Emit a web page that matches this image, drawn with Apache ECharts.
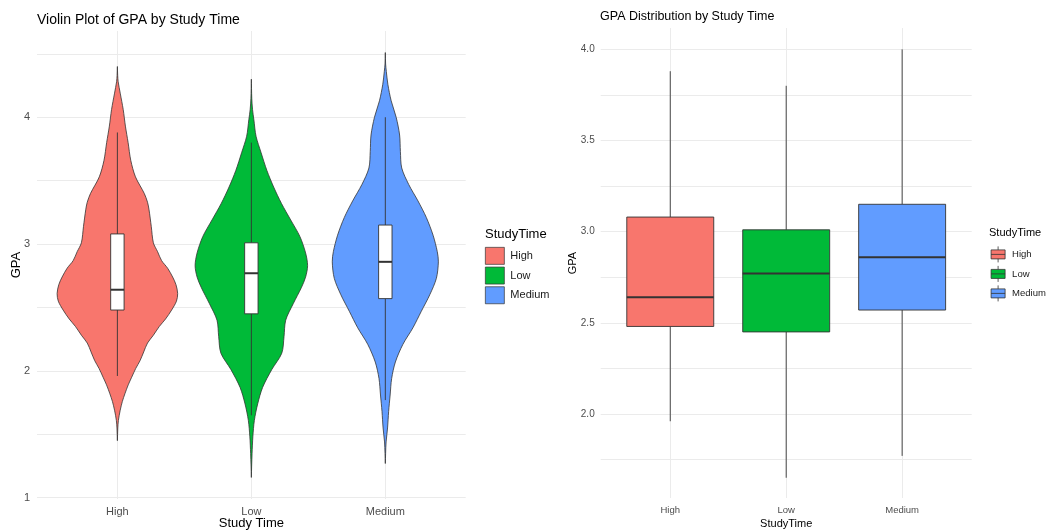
<!DOCTYPE html>
<html>
<head>
<meta charset="utf-8">
<script src="https://cdn.jsdelivr.net/npm/echarts@6/dist/echarts.min.js"></script>
<style>
html,body{margin:0;padding:0;background:#fff;}
#chart{width:1047px;height:531px;}
</style>
</head>
<body>
<div id="chart"></div>
<script>
// ---------- data ----------
const categories = ['High', 'Low', 'Medium'];

// violin outlines: GPA level and relative density (1 = widest violin)
const highViolinGpa = [4.40,4.33,4.28,4.19,4.06,3.93,3.80,3.66,3.53,3.40,3.33,3.27,3.14,3.01,2.94,2.87,2.81,2.74,2.68,2.61,2.55,2.48,2.41,2.35,2.28,2.22,2.15,2.08,2.02,1.95,1.89,1.82,1.76,1.69,1.61,1.55,1.45];
const highViolinDensity = [0,0.005,0.013,0.047,0.097,0.133,0.178,0.222,0.300,0.445,0.500,0.525,0.562,0.597,0.667,0.733,0.833,0.917,0.972,1.000,0.980,0.900,0.800,0.695,0.595,0.500,0.437,0.375,0.305,0.237,0.180,0.125,0.083,0.047,0.017,0.007,0];
const lowViolinGpa = [4.30,4.15,4.06,3.98,3.85,3.72,3.58,3.45,3.32,3.19,3.06,2.93,2.83,2.74,2.66,2.53,2.40,2.27,2.14,2.01,1.87,1.74,1.61,1.48,1.35,1.25,1.16];
const lowViolinDensity = [0,0.007,0.020,0.042,0.078,0.162,0.258,0.370,0.500,0.653,0.805,0.900,0.933,0.900,0.833,0.695,0.570,0.542,0.505,0.338,0.187,0.105,0.050,0.025,0.012,0.005,0];
const mediumViolinGpa = [4.51,4.42,4.36,4.26,4.13,4.00,3.86,3.73,3.60,3.47,3.34,3.21,3.07,2.94,2.86,2.73,2.60,2.47,2.34,2.21,2.07,1.94,1.81,1.68,1.55,1.44,1.35,1.27];
const mediumViolinDensity = [0,0.005,0.017,0.042,0.097,0.180,0.237,0.250,0.272,0.388,0.542,0.680,0.792,0.862,0.880,0.847,0.737,0.597,0.458,0.292,0.167,0.105,0.080,0.055,0.037,0.013,0.005,0];

// box statistics per category (High, Low, Medium)
const boxMin    = [1.96, 1.65, 1.77];
const boxQ1     = [2.48, 2.45, 2.57];
const boxMedian = [2.64, 2.77, 2.86];
const boxQ3     = [3.08, 3.01, 3.15];
const boxMax    = [3.88, 3.80, 4.00];

// tick labels
const violinYTicks = [1, 2, 3, 4];
const boxYTicks = [2.0, 2.5, 3.0, 3.5, 4.0];

// ---------- styles ----------
const groupColors = ['#F8766D', '#00BA38', '#619CFF'];
const FONT = 'Liberation Sans, Arial, Helvetica, sans-serif';
const GRID_COLOR = '#EBEBEB';
const OUTLINE = '#333333';
const VIOLIN_HALF_WIDTH = 0.45;   // half of ggplot violin width 0.9
const INNER_BOX_HALF = 0.05;      // width 0.1
const BOX_HALF = 0.375;           // width 0.75

const violinGpa = [highViolinGpa, lowViolinGpa, mediumViolinGpa];
const violinDensity = [highViolinDensity, lowViolinDensity, mediumViolinDensity];

function violinRender(ci) {
  const gpa = violinGpa[ci], dens = violinDensity[ci];
  return function (params, api) {
    if (params.dataIndex !== 0) return null;
    const right = [], left = [];
    for (let i = 0; i < gpa.length; i++) {
      const hw = dens[i] * VIOLIN_HALF_WIDTH;
      right.push(api.coord([ci + hw, gpa[i]]));
      left.unshift(api.coord([ci - hw, gpa[i]]));
    }
    return {
      type: 'polygon',
      shape: { points: right.concat(left), smooth: 0.3 },
      style: { fill: api.visual('color'), stroke: OUTLINE, lineWidth: 0.8 }
    };
  };
}

function boxRender(halfW, fixedFill) {
  return function (params, api) {
    const c = api.value(0);
    const lo = api.value(1), q1 = api.value(2), md = api.value(3), q3 = api.value(4), hi = api.value(5);
    const tl = api.coord([c - halfW, q3]);
    const br = api.coord([c + halfW, q1]);
    const top = api.coord([c, hi]);
    const bot = api.coord([c, lo]);
    const q3p = api.coord([c, q3]);
    const q1p = api.coord([c, q1]);
    const ml = api.coord([c - halfW, md]);
    const mr = api.coord([c + halfW, md]);
    return {
      type: 'group',
      children: [
        { type: 'line', shape: { x1: top[0], y1: top[1], x2: q3p[0], y2: q3p[1] }, style: { stroke: OUTLINE, lineWidth: 0.9 } },
        { type: 'line', shape: { x1: bot[0], y1: bot[1], x2: q1p[0], y2: q1p[1] }, style: { stroke: OUTLINE, lineWidth: 0.9 } },
        { type: 'rect', shape: { x: tl[0], y: tl[1], width: br[0] - tl[0], height: br[1] - tl[1] },
          style: { fill: fixedFill || api.visual('color'), stroke: OUTLINE, lineWidth: 0.9 } },
        { type: 'line', shape: { x1: ml[0], y1: ml[1], x2: mr[0], y2: mr[1] }, style: { stroke: OUTLINE, lineWidth: 2 } }
      ]
    };
  };
}

function boxRow(i) { return [i, boxMin[i], boxQ1[i], boxMedian[i], boxQ3[i], boxMax[i]]; }

function catLabel(v) {
  return Number.isInteger(v) && v >= 0 && v < categories.length ? categories[v] : '';
}
function inTicks(list, v) { return list.some(t => Math.abs(t - v) < 1e-6); }

const series = [];
categories.forEach((name, i) => {
  series.push({
    type: 'custom', name: name, xAxisIndex: 0, yAxisIndex: 0, z: 2,
    itemStyle: { color: groupColors[i] },
    encode: { x: 0, y: 1 },
    data: violinGpa[i].map(g => [i, g]),
    renderItem: violinRender(i)
  });
});
series.push({
  type: 'custom', name: 'violinBox', xAxisIndex: 0, yAxisIndex: 0, z: 3,
  encode: { x: 0, y: [1, 2, 3, 4, 5] },
  data: categories.map((c, i) => boxRow(i)),
  renderItem: boxRender(INNER_BOX_HALF, '#FFFFFF')
});
categories.forEach((name, i) => {
  series.push({
    type: 'custom', name: name, xAxisIndex: 1, yAxisIndex: 1, z: 2,
    itemStyle: { color: groupColors[i] },
    encode: { x: 0, y: [1, 2, 3, 4, 5] },
    data: [boxRow(i)],
    renderItem: boxRender(BOX_HALF, null)
  });
});

function xAxisDef(gridIndex, name, labelSize, nameSize, nameGap) {
  return {
    type: 'value', gridIndex: gridIndex, min: -0.6, max: 2.6, minInterval: 1, maxInterval: 1,
    axisLine: { show: false }, axisTick: { show: false },
    splitLine: { show: true, showMinLine: false, showMaxLine: false, lineStyle: { color: GRID_COLOR, width: 1 } },
    axisLabel: { formatter: catLabel, fontSize: labelSize, color: '#4D4D4D', margin: 7, fontFamily: FONT },
    name: name, nameLocation: 'middle', nameGap: nameGap, nameMoveOverlap: false,
    nameTextStyle: { fontSize: nameSize, color: '#000', fontFamily: FONT }
  };
}

const option = {
  animation: false,
  backgroundColor: '#FFFFFF',
  textStyle: { fontFamily: FONT },
  title: [
    { text: 'Violin Plot of GPA by Study Time', left: 37, top: 13, padding: 0,
      textStyle: { fontSize: 14, fontWeight: 'normal', color: '#000', fontFamily: FONT } },
    { text: 'GPA Distribution by Study Time', left: 600, top: 10, padding: 0,
      textStyle: { fontSize: 12.5, fontWeight: 'normal', color: '#000', fontFamily: FONT } },
    { text: 'StudyTime', left: 485, top: 228, padding: 0,
      textStyle: { fontSize: 13, fontWeight: 'normal', color: '#000', fontFamily: FONT } },
    { text: 'StudyTime', left: 989, top: 227, padding: 0,
      textStyle: { fontSize: 11, fontWeight: 'normal', color: '#000', fontFamily: FONT } }
  ],
  legend: [
    {
      data: categories.map(n => ({ name: n, icon: 'rect' })),
      orient: 'vertical', left: 485, top: 247, padding: 0,
      itemWidth: 19, itemHeight: 17, itemGap: 2, selectedMode: false,
      itemStyle: { borderColor: OUTLINE, borderWidth: 0.7 },
      textStyle: { fontSize: 11, color: '#1A1A1A', fontFamily: FONT, padding: [0, 0, 0, 1] }
    },
    {
      data: categories.map(n => ({ name: n, icon: 'path://M0 3.5L14 3.5L14 12.5L0 12.5Z M0 8L14 8 M7 0L7 3.5 M7 12.5L7 16' })),
      orient: 'vertical', left: 990.7, top: 246, padding: 0,
      itemWidth: 14, itemHeight: 16, itemGap: 2.7, selectedMode: false,
      itemStyle: { borderColor: OUTLINE, borderWidth: 0.8 },
      textStyle: { fontSize: 9.5, color: '#1A1A1A', fontFamily: FONT, padding: [0, 0, 0, 2] }
    }
  ],
  grid: [
    { left: 37, top: 31, width: 428.7, height: 468, containLabel: false, outerBoundsMode: 'none' },
    { left: 600.7, top: 28, width: 371, height: 470, containLabel: false, outerBoundsMode: 'none' }
  ],
  xAxis: [
    xAxisDef(0, 'Study Time', 11, 13, 18),
    xAxisDef(1, 'StudyTime', 9.5, 11, 20)
  ],
  yAxis: [
    {
      type: 'value', gridIndex: 0, min: 0.99, max: 4.68, minInterval: 0.5, maxInterval: 0.5,
      axisLine: { show: false }, axisTick: { show: false },
      splitLine: { show: true, showMinLine: false, showMaxLine: false, lineStyle: { color: GRID_COLOR, width: 1 } },
      axisLabel: { formatter: v => inTicks(violinYTicks, v) ? String(Math.round(v)) : '', fontSize: 11, color: '#4D4D4D', margin: 7, fontFamily: FONT },
      name: 'GPA', nameLocation: 'middle', nameGap: 14, nameRotate: 90, nameMoveOverlap: false,
      nameTextStyle: { fontSize: 13, color: '#000', fontFamily: FONT }
    },
    {
      type: 'value', gridIndex: 1, min: 1.539, max: 4.117, minInterval: 0.25, maxInterval: 0.25,
      axisLine: { show: false }, axisTick: { show: false },
      splitLine: { show: true, showMinLine: false, showMaxLine: false, lineStyle: { color: GRID_COLOR, width: 1 } },
      axisLabel: { formatter: v => inTicks(boxYTicks, v) ? v.toFixed(1) : '', fontSize: 10, color: '#4D4D4D', margin: 6, fontFamily: FONT },
      name: 'GPA', nameLocation: 'middle', nameGap: 22, nameRotate: 90, nameMoveOverlap: false,
      nameTextStyle: { fontSize: 11, color: '#000', fontFamily: FONT }
    }
  ],
  series: series
};

const chart = echarts.init(document.getElementById('chart'), null, { renderer: 'canvas' });
chart.setOption(option);
</script>
</body>
</html>
